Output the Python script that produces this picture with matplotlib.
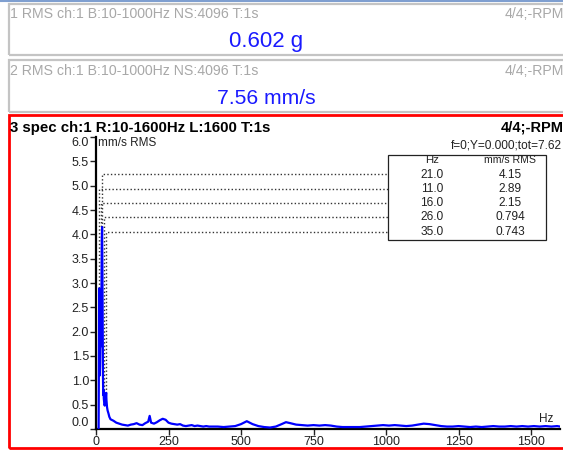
import matplotlib
matplotlib.use('Agg')
import matplotlib.pyplot as plt
from matplotlib.patches import Rectangle
from matplotlib.lines import Line2D

plt.rcParams['font.family'] = ['Liberation Sans', 'DejaVu Sans']

W, H = 563, 450

# rms readouts (top two panels)
rms_titles = ['1 RMS ch:1 B:10-1000Hz NS:4096 T:1s', '2 RMS ch:1 B:10-1000Hz NS:4096 T:1s']
rms_values = ['0.602 g', '7.56 mm/s']

# spectrum (Hz, mm/s RMS)
freq = [9, 10, 11, 12, 13, 14, 15, 16, 17, 18, 19, 20, 21, 22, 23, 24, 25, 26, 27, 28,
        29, 30, 32, 34, 35, 36, 38, 40, 43, 46,
        50, 60, 70, 80, 90, 100, 110, 120, 130, 140, 150, 160, 170, 180, 185, 190,
        200, 210, 220, 230, 240, 250, 260, 270, 280, 290, 300, 310, 320, 330, 340,
        350, 360, 370, 380, 390, 400,
        420, 440, 460, 480, 500, 510, 520, 530, 540, 560, 580, 600, 620, 640, 655,
        670, 690, 710, 730, 750, 770, 790, 810, 830, 850, 870, 890, 910, 930, 950,
        970, 990, 1010, 1030, 1050, 1070, 1090, 1110, 1130, 1150, 1170, 1190, 1210,
        1230, 1250, 1270, 1290, 1310, 1330, 1350, 1370, 1390, 1410, 1430, 1450,
        1470, 1490, 1510, 1530, 1550, 1570, 1590, 1600]
amp = [0.0, 1.3, 2.89, 1.6, 1.1, 1.3, 1.9, 2.15, 1.7, 1.9, 3.1, 3.9, 4.15, 3.3, 2.0, 1.1, 0.7, 0.794, 0.62, 0.55,
       0.5, 0.48, 0.55, 0.65, 0.743, 0.6, 0.45, 0.38, 0.32, 0.25,
       0.20, 0.17, 0.13, 0.11, 0.09, 0.08, 0.07, 0.09, 0.10, 0.12, 0.09, 0.08, 0.12, 0.15, 0.27, 0.13,
       0.11, 0.14, 0.18, 0.21, 0.19, 0.13, 0.11, 0.10, 0.09, 0.10, 0.07, 0.06, 0.07, 0.08, 0.06,
       0.07, 0.06, 0.05, 0.06, 0.05, 0.05,
       0.05, 0.04, 0.05, 0.06, 0.10, 0.13, 0.16, 0.13, 0.10, 0.06, 0.04, 0.03, 0.05, 0.10, 0.14,
       0.12, 0.09, 0.08, 0.07, 0.08, 0.07, 0.08, 0.07, 0.05, 0.04, 0.04, 0.04, 0.04, 0.05, 0.06,
       0.07, 0.08, 0.07, 0.08, 0.07, 0.06, 0.07, 0.09, 0.11, 0.10, 0.08, 0.06, 0.05,
       0.05, 0.06, 0.05, 0.04, 0.05, 0.04, 0.05, 0.06, 0.05, 0.05, 0.06, 0.05,
       0.06, 0.05, 0.06, 0.05, 0.06, 0.05, 0.06, 0.05]

# peak table
peak_hz = [21.0, 11.0, 16.0, 26.0, 35.0]
peak_val = [4.15, 2.89, 2.15, 0.794, 0.743]
peak_txt = ['4.15', '2.89', '2.15', '0.794', '0.743']

xticks = [0, 250, 500, 750, 1000, 1250, 1500]
yticks = [0.0, 0.5, 1.0, 1.5, 2.0, 2.5, 3.0, 3.5, 4.0, 4.5, 5.0, 5.5, 6.0]


def fx(px):
    return px / W


def fy(py):
    return 1 - py / H


fig = plt.figure(figsize=(W / 100, H / 100), dpi=100)

# panel frames
fig.add_artist(Line2D([0, 1], [fy(1), fy(1)], color='#7f9fd0', lw=1.5))
for top, bot in [(4, 55), (60, 112)]:
    fig.add_artist(Rectangle((fx(9), fy(bot)), fx(W + 5) - fx(9), fy(top) - fy(bot),
                             fill=False, ec='#c4c4c4', lw=1.6))
fig.add_artist(Rectangle((fx(9), fy(448)), fx(W + 5) - fx(9), fy(115) - fy(448),
                         fill=False, ec='#ff0000', lw=2.0))

for i, (t, v) in enumerate(zip(rms_titles, rms_values)):
    y0 = 14 + 57 * i
    fig.text(fx(10), fy(y0), t, color='#a8a8a8', fontsize=10.2, va='center')
    fig.text(fx(W + 1), fy(y0), '4/4;-RPM', color='#a8a8a8', fontsize=10.2, va='center', ha='right')
    fig.text(fx(266), fy(y0 + 28), v, color='#1a1aff', fontsize=[16, 15.2][i], va='center', ha='center')

fig.text(fx(10), fy(128), '3 spec ch:1 R:10-1600Hz L:1600 T:1s', fontsize=10.8,
         fontweight='bold', va='center')
fig.text(fx(W + 1), fy(128), '4/4;-RPM', fontsize=10.5, fontweight='bold', va='center', ha='right')
fig.text(fx(451), fy(145), 'f=0;Y=0.000;tot=7.62', fontsize=8.6, va='center', color='#222222')

# spectrum axes
ax = fig.add_axes([fx(96), fy(429), fx(560) - fx(96), fy(137) - fy(429)])
ax.set_xlim(0, 1600)
ax.set_ylim(0, 6)
ax.set_facecolor('none')
ax.plot(freq, amp, color='#0000ff', lw=1.6, zorder=3)

for s in ['top', 'right']:
    ax.spines[s].set_visible(False)
for s in ['left', 'bottom']:
    ax.spines[s].set_linewidth(1.6)
ax.set_xticks(xticks)
ax.set_yticks(yticks)
ax.set_yticklabels(['%.1f' % v for v in yticks])
ax.tick_params(direction='out', length=4, width=1, labelsize=9, pad=1, colors='#222222')
yt = ax.yaxis.get_major_ticks()
yt[0].label1.set_verticalalignment('bottom')
yt[-1].label1.set_verticalalignment('top')

ax.text(0.005, 1.0, 'mm/s RMS', transform=ax.transAxes, fontsize=8.5, va='top', color='#222222')
ax.text(0.985, 0.015, 'Hz', transform=ax.transAxes, fontsize=8.5, va='bottom', ha='right', color='#222222')

# peak table with leader lines
tab_left, tab_right, tab_top, tab_bot = 388, 546, 155, 240
row_y = [160, 174.5, 188.7, 203, 217.2, 231.5]
fig.add_artist(Rectangle((fx(tab_left), fy(tab_bot)), fx(tab_right) - fx(tab_left),
                         fy(tab_top) - fy(tab_bot), fill=False, ec='#222222', lw=0.9))
fig.text(fx(432), fy(row_y[0]), 'Hz', fontsize=8.2, ha='center', va='center', color='#222222')
fig.text(fx(510), fy(row_y[0]), 'mm/s RMS', fontsize=7.6, ha='center', va='center', color='#222222')

inv = ax.transData.inverted()
x_tab = inv.transform((tab_left, 0))[0]
for k, (f, v, t) in enumerate(zip(peak_hz, peak_val, peak_txt)):
    py = row_y[k + 1]
    fig.text(fx(432), fy(py), '%.1f' % f, fontsize=8.6, ha='center', va='center', color='#222222')
    fig.text(fx(510), fy(py), t, fontsize=8.6, ha='center', va='center', color='#222222')
    y_lvl = inv.transform((0, H - py))[1]
    ax.plot([f, f, x_tab], [v, y_lvl, y_lvl], color='#333333', lw=1.0,
            ls=(0, (1, 1.6)), clip_on=False, zorder=2)

fig.savefig('out.png', dpi=100)
